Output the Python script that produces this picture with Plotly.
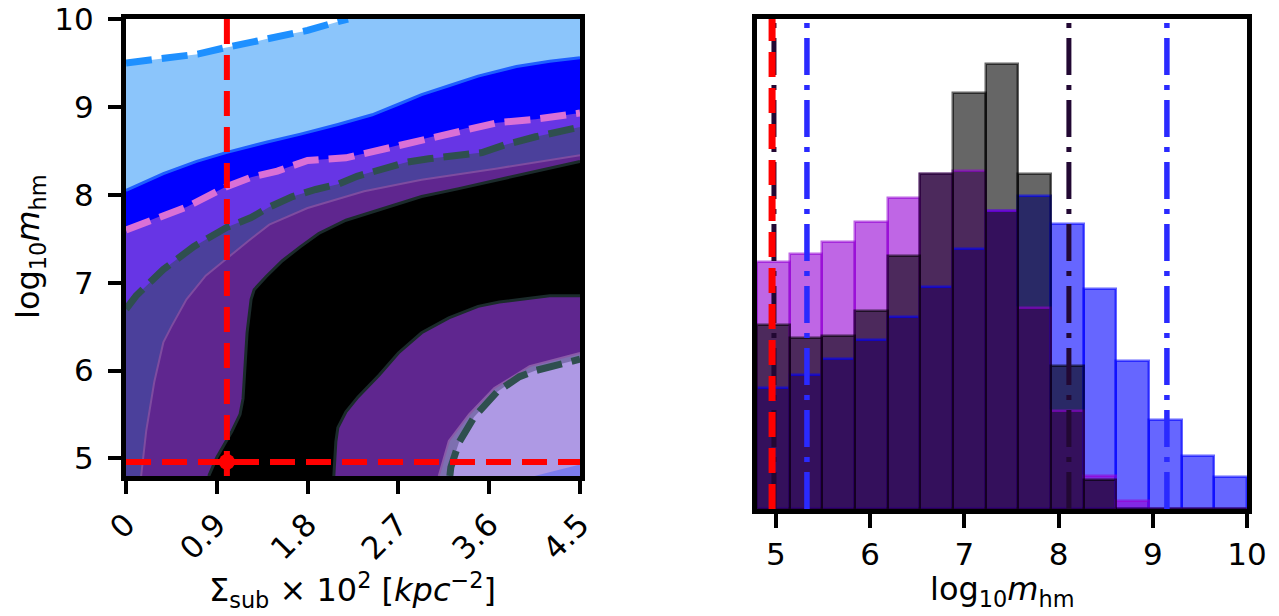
import numpy as np
import plotly.graph_objects as go

# ---------------- Left panel data (contour boundaries) ----------------
sigma_range = [0, 4.5]
mhm_range = [4.8, 10]
sigma_ticks = [0, 0.9, 1.8, 2.7, 3.6, 4.5]
sigma_ticktext = ["0", "0.9", "1.8", "2.7", "3.6", "4.5"]
mhm_ticks = [5, 6, 7, 8, 9, 10]

# outer (dashed dodgerblue) contour
top_x = [0, 0.37, 0.71, 0.97, 1.2, 1.42, 1.8, 2.1, 2.2]
top_y = [9.5, 9.55, 9.6, 9.67, 9.72, 9.78, 9.87, 9.97, 10.0]
# light blue / blue boundary
b1_x = [0, 0.37, 0.7, 0.99, 1.4, 1.73, 2.1, 2.44, 2.7, 2.93, 3.2, 3.49, 3.87, 4.2, 4.5]
b1_y = [8.05, 8.24, 8.38, 8.48, 8.6, 8.69, 8.8, 8.91, 9.03, 9.14, 9.24, 9.35, 9.46, 9.52, 9.56]
# orchid dashed contour
pk_x = [0, 0.37, 0.6, 0.99, 1.24, 1.5, 1.8, 2.18, 2.48, 2.85, 3.12, 3.38, 3.68, 4.06, 4.5]
pk_y = [7.6, 7.77, 7.86, 8.09, 8.2, 8.27, 8.39, 8.42, 8.5, 8.61, 8.69, 8.76, 8.82, 8.86, 8.93]
# dark slate dashed contour
ds_x = [0, 0.1, 0.37, 0.67, 1.0, 1.24, 1.42, 1.65, 1.88, 2.1, 2.29, 2.55, 2.78, 3.0, 3.3, 3.53, 3.76, 4.06, 4.5]
ds_y = [6.7, 6.85, 7.15, 7.41, 7.63, 7.74, 7.86, 7.98, 8.06, 8.12, 8.21, 8.3, 8.37, 8.41, 8.45, 8.48, 8.57, 8.66, 8.77]
# faint boundary (slate / dark purple)
fa_x = [0.15, 0.2, 0.28, 0.37, 0.45, 0.6, 0.79, 0.99, 1.24, 1.42, 1.8, 2.36, 2.93, 3.68, 4.5]
fa_y = [4.8, 5.31, 5.87, 6.32, 6.5, 6.81, 7.08, 7.27, 7.5, 7.66, 7.85, 8.04, 8.17, 8.3, 8.45]
# black region: left / top boundary
kl_x = [0.82, 0.9, 1.05, 1.13, 1.16, 1.18, 1.2, 1.24, 1.27, 1.39, 1.55, 1.73, 1.91, 2.18, 2.55, 2.93, 3.3, 3.68, 4.1, 4.5]
kl_y = [4.8, 5.01, 5.31, 5.5, 5.68, 6.0, 6.43, 6.81, 6.92, 7.07, 7.25, 7.41, 7.56, 7.71, 7.84, 7.98, 8.07, 8.17, 8.28, 8.38]
# black region: lower right boundary
kr_x = [4.5, 4.2, 4.06, 3.7, 3.49, 3.2, 2.93, 2.7, 2.51, 2.3, 2.18, 2.1, 2.08, 2.06]
kr_y = [6.85, 6.85, 6.83, 6.78, 6.73, 6.6, 6.43, 6.2, 5.95, 5.7, 5.53, 5.35, 5.19, 4.8]
# lower-right faint ring and dashed contour
ring_x = [3.1, 3.2, 3.4, 3.65, 4.0, 4.5]
ring_y = [4.8, 5.2, 5.5, 5.8, 6.05, 6.2]
lc_x = [3.21, 3.22, 3.3, 3.45, 3.68, 3.9, 4.06, 4.3, 4.5]
lc_y = [4.8, 4.9, 5.18, 5.47, 5.76, 5.93, 6.0, 6.07, 6.13]
# small blue corner patch
corner_x = [4.05, 4.5, 4.5]
corner_y = [4.8, 4.8, 4.93]

truth_sigma = 1.0
truth_mhm = 4.96

# ---------------- Right panel data (histograms) ----------------
bin_lo, bin_hi, n_bins = 4.8, 10.0, 15
hist_purple = [55.5, 57.2, 59.9, 64.4, 69.9, 75.3, 75.9, 66.8, 45.2, 22.0, 7.3, 1.8, 0, 0, 0]
hist_black = [41.2, 38.3, 38.8, 44.5, 56.8, 75.1, 93.5, 100.0, 75.3, 32.1, 6.5, 0, 0, 0, 0]
hist_blue = [27.2, 30.1, 33.6, 37.9, 43.2, 49.9, 58.4, 66.8, 70.2, 63.9, 49.4, 33.2, 20.0, 11.8, 7.1]
black_interval = [4.98, 8.11]
blue_interval = [5.33, 9.15]
hist_ymax = 110.0
hist_ticks = [5, 6, 7, 8, 9, 10]

edges = np.linspace(bin_lo, bin_hi, n_bins + 1)
centers = 0.5 * (edges[:-1] + edges[1:])
widths = np.diff(edges)

FONT = "DejaVu Sans"
fig = go.Figure()

def poly(xs, ys, color, xa="x", ya="y"):
    fig.add_trace(go.Scatter(x=xs, y=ys, fill="toself", fillcolor=color, mode="lines",
                             line=dict(width=0, color=color), hoverinfo="skip",
                             xaxis=xa, yaxis=ya, showlegend=False))

def curve(xs, ys, color, width, dash="solid", xa="x", ya="y"):
    fig.add_trace(go.Scatter(x=xs, y=ys, mode="lines", line=dict(color=color, width=width, dash=dash),
                             hoverinfo="skip", xaxis=xa, yaxis=ya, showlegend=False))

x0, x1 = sigma_range
y0, y1 = mhm_range
# filled regions, painted outermost first
poly(top_x + [x1, x1, x0], top_y + [y1, y0, y0], "#8bc5fb")
poly(b1_x + [x1, x0], b1_y + [y0, y0], "#0000ff")
poly(pk_x + [x1, x0], pk_y + [y0, y0], "#6735e5")
poly(ds_x + [x1, x0], ds_y + [y0, y0], "#4b409b")
poly(fa_x + [x1], fa_y + [y0], "#5f268f")
poly(kl_x + kr_x, kl_y + kr_y, "#000000")
poly(ring_x + [x1], ring_y + [y0], "#7d6fb0")
poly(lc_x + [x1], lc_y + [y0], "#ae99e4")
poly(corner_x, corner_y, "#7c7cee")

# contour lines
DASH = "26px,10px"
curve(top_x, top_y, "#1e90ff", 7, DASH)
curve(b1_x, b1_y, "#1f5fff", 3)
curve(fa_x, fa_y, "#7e4ca0", 2)
curve(pk_x, pk_y, "#da70d6", 7, DASH)
curve(ds_x, ds_y, "#2f4f4f", 7, DASH)
curve(kl_x, kl_y, "#1b2b2b", 3)
curve(kr_x, kr_y, "#1b2b2b", 3)
curve(ring_x, ring_y, "#8a5aa8", 2)
curve(lc_x, lc_y, "#2f4f4f", 7, DASH)

# truth markers
RDASH = "25px,11px"
curve([truth_sigma, truth_sigma], [y0, y1], "#ff0000", 6, RDASH)
curve([x0, x1], [truth_mhm, truth_mhm], "#ff0000", 6, RDASH)
fig.add_trace(go.Scatter(x=[truth_sigma], y=[truth_mhm], mode="markers",
                         marker=dict(color="#ff0000", size=16), hoverinfo="skip", showlegend=False))

# ---------------- Right panel ----------------
hist_sets = [(hist_blue, (0, 0, 255)), (hist_purple, (148, 0, 211)), (hist_black, (0, 0, 0))]
for vals, (r, g, b) in hist_sets:
    fig.add_trace(go.Bar(x=centers, y=vals, width=widths, xaxis="x2", yaxis="y2",
                         marker=dict(color=f"rgba({r},{g},{b},0.6)", line=dict(width=0)),
                         hoverinfo="skip", showlegend=False))
for vals, (r, g, b) in hist_sets:
    fig.add_trace(go.Bar(x=centers, y=vals, width=widths, xaxis="x2", yaxis="y2",
                         marker=dict(color="rgba(0,0,0,0)",
                                     line=dict(width=2.5, color=f"rgba({r},{g},{b},0.6)")),
                         hoverinfo="skip", showlegend=False))

DD = "37px,10px,5px,10px"
for v in black_interval:
    curve([v, v], [0, hist_ymax], "#220833", 5, DD, "x2", "y2")
for v in blue_interval:
    curve([v, v], [0, hist_ymax], "#2a2aff", 5.5, DD, "x2", "y2")
curve([truth_mhm, truth_mhm], [0, hist_ymax], "#ff0000", 7, RDASH, "x2", "y2")

# page has an 8px body margin: figure is offset by (8, 8) in the window
OFF = 8
W, H = 1279 - OFF, 616 - OFF
def fx(px):
    return (px - OFF) / W
def fy(py):
    return 1 - (py - OFF) / H

axis_common = dict(showline=True, linewidth=5, linecolor="black", mirror=True, automargin=False,
                   showgrid=False, zeroline=False, ticks="outside", tickwidth=4,
                   ticklabeloverflow="allow",
                   tickcolor="black", tickfont=dict(family=FONT, size=31, color="black"))

fig.update_layout(
    width=W, height=H, margin=dict(l=0, r=0, t=0, b=0, autoexpand=False),
    paper_bgcolor="white", plot_bgcolor="white", barmode="overlay", bargap=0,
    showlegend=False, font=dict(family=FONT, color="black"),
    xaxis=dict(domain=[fx(126), fx(580)], range=sigma_range, tickvals=sigma_ticks,
               ticktext=sigma_ticktext, tickangle=-45, ticklen=13, anchor="y", **axis_common),
    yaxis=dict(domain=[fy(476), fy(19)], range=[mhm_range[0], mhm_range[1] + 1e-4],
               tickvals=mhm_ticks, ticklen=13, anchor="x", ticklabelstandoff=8, **axis_common),
    xaxis2=dict(domain=[fx(757), fx(1247)], range=[bin_lo, bin_hi + 1e-4], tickvals=hist_ticks,
                ticklen=14, anchor="y2", **axis_common),
    yaxis2=dict(domain=[fy(509), fy(19)], range=[0, hist_ymax], anchor="x2", automargin=False,
                showline=True, linewidth=5, linecolor="black", mirror=True, showgrid=False,
                zeroline=False, ticks="", showticklabels=False),
)

fig.add_annotation(x=fx(30), y=fy(247), xref="paper", yref="paper", textangle=-90,
                   text="log<sub>10</sub><i>m</i><sub>hm</sub>", showarrow=False,
                   font=dict(family=FONT, size=32, color="black"), xanchor="center", yanchor="middle")
fig.add_annotation(x=fx(352), y=fy(590), xref="paper", yref="paper",
                   text="Σ<sub>sub</sub> × 10<sup>2</sup> [<i>kpc</i><sup>−2</sup>]", showarrow=False,
                   font=dict(family=FONT, size=32, color="black"), xanchor="center", yanchor="middle")
fig.add_annotation(x=fx(1002), y=fy(591), xref="paper", yref="paper",
                   text="log<sub>10</sub><i>m</i><sub>hm</sub>", showarrow=False,
                   font=dict(family=FONT, size=32, color="black"), xanchor="center", yanchor="middle")

fig.write_html("out.html")
